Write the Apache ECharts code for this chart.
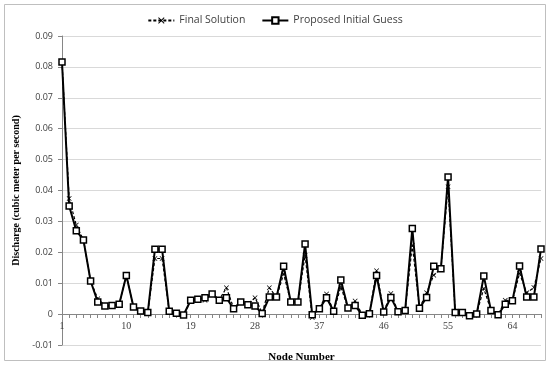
<!DOCTYPE html>
<html>
<head>
<meta charset="utf-8">
<script src="https://cdn.jsdelivr.net/npm/echarts@6/dist/echarts.min.js"></script>
<style>
  html, body { margin: 0; padding: 0; background: #fff; }
  #chart { width: 550px; height: 365px; }
</style>
</head>
<body>
<div id="chart"></div>
<script>
// node numbers 1..68
const nodes = [
  1, 2, 3, 4, 5, 6, 7, 8, 9, 10, 11, 12, 13, 14, 15, 16, 17,
  18, 19, 20, 21, 22, 23, 24, 25, 26, 27, 28, 29, 30, 31, 32, 33, 34,
  35, 36, 37, 38, 39, 40, 41, 42, 43, 44, 45, 46, 47, 48, 49, 50, 51,
  52, 53, 54, 55, 56, 57, 58, 59, 60, 61, 62, 63, 64, 65, 66, 67, 68
];

const initialGuess = [
  0.0816, 0.0350, 0.0270, 0.0240, 0.0107, 0.0039, 0.0026, 0.0028, 0.0032, 0.0125,
  0.0023, 0.0010, 0.0005, 0.0210, 0.0210, 0.0009, 0.0003, -0.0003, 0.0045, 0.0048,
  0.0053, 0.0065, 0.0045, 0.0053, 0.0017, 0.0039, 0.0030, 0.0026, 0.0002, 0.0055,
  0.0055, 0.0155, 0.0039, 0.0039, 0.0227, -0.0002, 0.0017, 0.0053, 0.0009, 0.0110,
  0.0020, 0.0028, -0.0004, 0.0001, 0.0125, 0.0007, 0.0054, 0.0008, 0.0012, 0.0277,
  0.0019, 0.0054, 0.0155, 0.0147, 0.0444, 0.0005, 0.0005, -0.0005, 0.0000, 0.0123,
  0.0012, -0.0002, 0.0032, 0.0043, 0.0156, 0.0055, 0.0055, 0.0211
];

const finalSolution = [
  0.0816, 0.0374, 0.0288, 0.0240, 0.0107, 0.0050, 0.0028, 0.0028, 0.0032, 0.0125,
  0.0023, 0.0010, 0.0005, 0.0180, 0.0180, 0.0009, 0.0003, -0.0003, 0.0042, 0.0046,
  0.0045, 0.0065, 0.0047, 0.0085, 0.0020, 0.0039, 0.0032, 0.0053, 0.0004, 0.0085,
  0.0055, 0.0130, 0.0039, 0.0039, 0.0190, -0.0011, 0.0017, 0.0065, 0.0009, 0.0088,
  0.0020, 0.0042, -0.0002, 0.0002, 0.0140, 0.0007, 0.0067, 0.0008, 0.0012, 0.0223,
  0.0019, 0.0069, 0.0126, 0.0147, 0.0412, 0.0005, 0.0005, -0.0005, 0.0002, 0.0083,
  0.0012, -0.0002, 0.0045, 0.0043, 0.0132, 0.0069, 0.0086, 0.0180
];

const xMark = 'path://M0,1L1,0L5,4L9,0L10,1L6,5L10,9L9,10L5,6L1,10L0,9L4,5Z';

const chart = echarts.init(document.getElementById('chart'));

chart.setOption({
  animation: false,
  backgroundColor: '#fff',
  graphic: [{
    type: 'rect',
    shape: { x: 4.5, y: 4.5, width: 541, height: 356 },
    style: { fill: 'none', stroke: '#bfbfbf', lineWidth: 1 },
    silent: true
  }],
  legend: {
    top: 10,
    left: 'center',
    itemGap: 16,
    itemWidth: 26,
    itemHeight: 8,
    textStyle: { fontFamily: 'Open Sans', fontSize: 10.5, color: '#404040' },
    data: ['Final Solution', 'Proposed Initial Guess']
  },
  grid: { left: 62, right: 9, top: 36, bottom: 20, outerBoundsMode: 'none' },
  xAxis: {
    type: 'category',
    data: nodes,
    boundaryGap: false,
    position: 'bottom',
    // the axis sits on the zero line, 0.01 above the bottom of the grid
    offset: -31,
    axisLine: { onZero: false, lineStyle: { color: '#868686', width: 1 } },
    axisTick: { show: true, interval: 0, length: 4, lineStyle: { color: '#868686' } },
    axisLabel: {
      interval: 8,
      margin: 7,
      fontFamily: 'Liberation Serif',
      fontSize: 10,
      color: '#404040'
    },
    splitLine: { show: false },
    name: 'Node Number',
    nameLocation: 'middle',
    nameGap: 38,
    nameTextStyle: {
      fontFamily: 'Liberation Serif',
      fontWeight: 'bold',
      fontSize: 11,
      color: '#000'
    }
  },
  yAxis: {
    type: 'value',
    min: -0.01,
    max: 0.09,
    interval: 0.01,
    axisLine: { show: true, lineStyle: { color: '#868686' } },
    axisTick: { show: true, length: 4, lineStyle: { color: '#868686' } },
    splitLine: { lineStyle: { color: '#d9d9d9', width: 1 } },
    axisLabel: {
      margin: 9,
      fontFamily: 'Open Sans',
      fontSize: 9,
      color: '#404040',
      formatter: v => (Math.abs(v) < 1e-9 ? '0' : v.toFixed(2))
    },
    name: 'Discharge (cubic meter per second)',
    nameLocation: 'middle',
    nameRotate: 90,
    nameGap: 40,
    nameTextStyle: {
      fontFamily: 'Liberation Serif',
      fontWeight: 'bold',
      fontSize: 10,
      color: '#000'
    }
  },
  series: [
    {
      name: 'Final Solution',
      type: 'line',
      data: finalSolution,
      symbol: xMark,
      symbolSize: 5,
      showAllSymbol: true,
      itemStyle: { color: '#000' },
      lineStyle: { color: '#000', width: 1.2, type: [3, 2] },
      z: 2
    },
    {
      name: 'Proposed Initial Guess',
      type: 'line',
      data: initialGuess,
      symbol: 'rect',
      symbolSize: 6,
      showAllSymbol: true,
      itemStyle: { color: '#fff', borderColor: '#000', borderWidth: 1.5 },
      lineStyle: { color: '#000', width: 2 },
      z: 3
    }
  ]
});
</script>
</body>
</html>
